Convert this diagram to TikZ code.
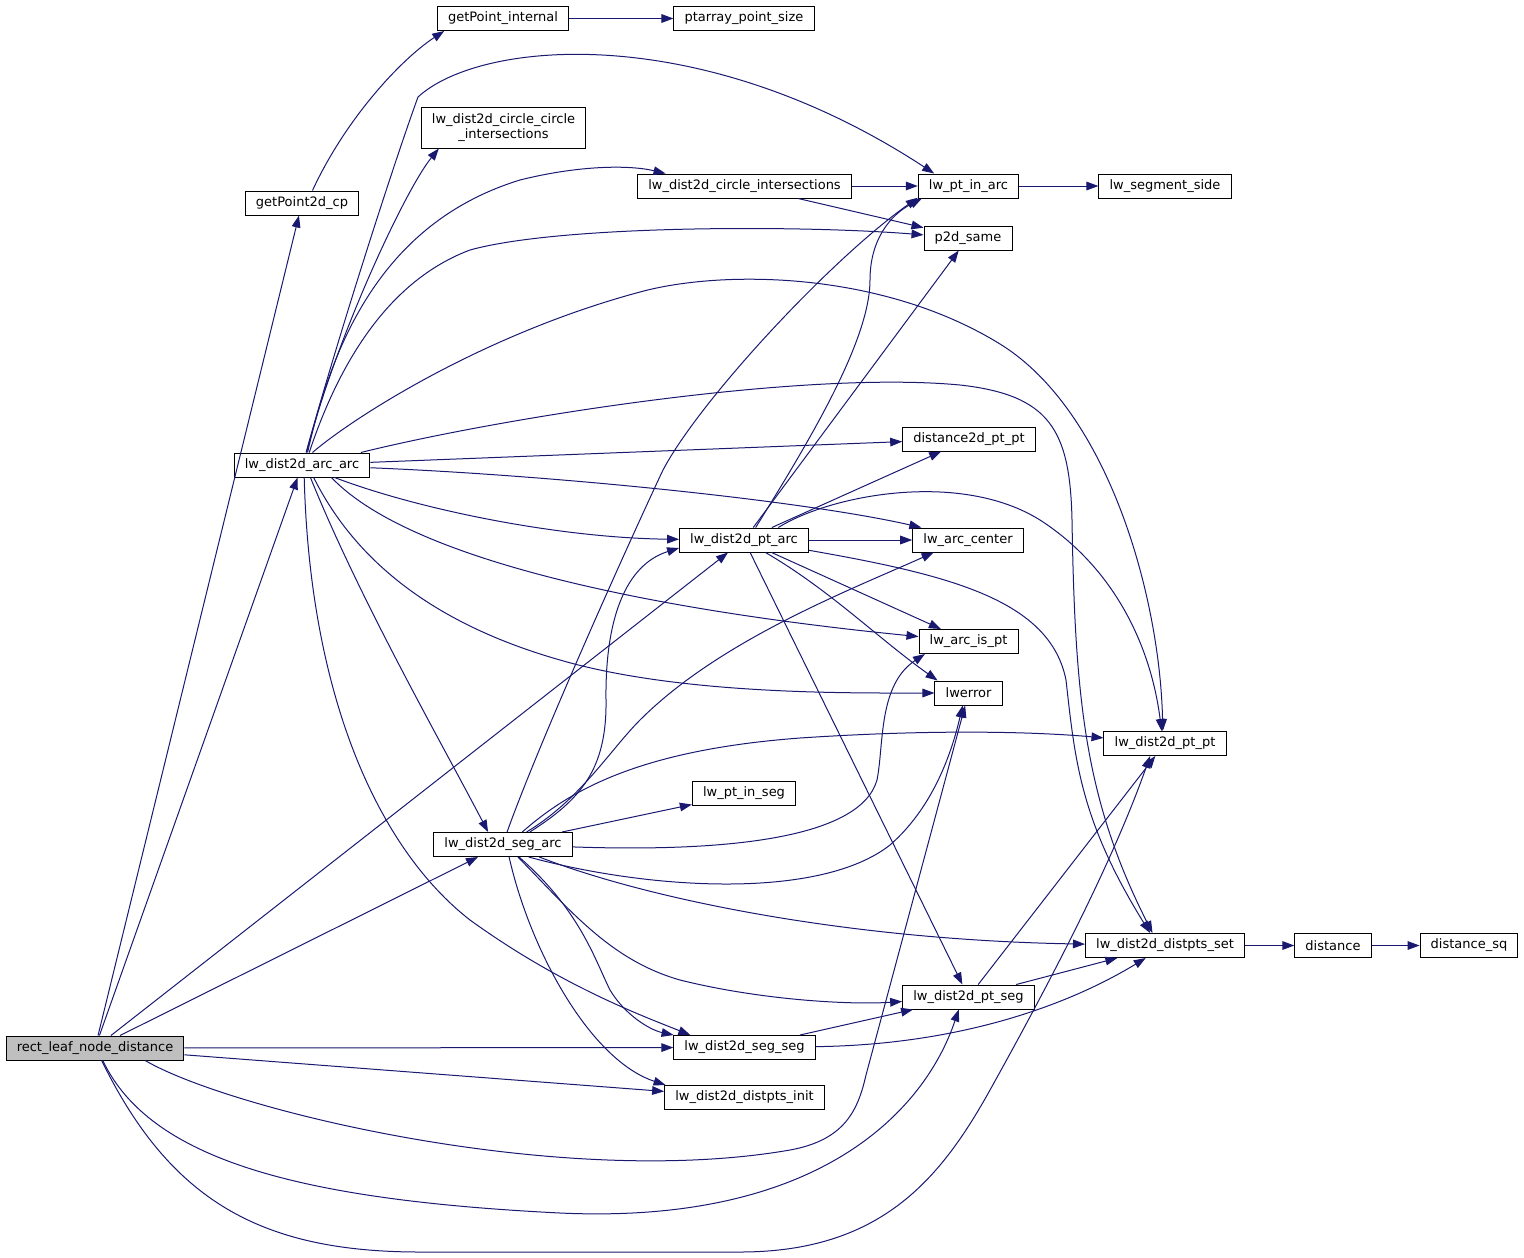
\documentclass[tikz,border=0pt]{standalone}
\usepackage{fontspec}
\setmainfont{DejaVu Sans}
\usetikzlibrary{arrows.meta}
\definecolor{callblue}{HTML}{191970}
\definecolor{rootgray}{HTML}{BFBFBF}

\begin{document}
\begin{tikzpicture}[x=0.75pt,y=-0.75pt]
\tikzstyle{func} = [rectangle, draw=black, fill=white, line width=0.75pt, inner xsep=8pt, inner ysep=0pt, minimum height=18pt, font=\fontsize{9.75}{11.25}\selectfont]
\tikzstyle{call} = [draw=callblue, line width=0.75pt, -{Triangle[length=9pt,width=6.5pt]}]

\useasboundingbox (0,0) rectangle (1524,1257);

\node[func, fill=rootgray] (leaf) at (95,1048) {rect\_leaf\_node\_distance};
\node[func] (ptint) at (503,18.5) {getPoint\_internal};
\node[func] (ptsize) at (744,18.5) {ptarray\_point\_size};
\node[func] (pt2dcp) at (302,203) {getPoint2d\_cp};
\node[func, align=center, minimum height=30.75pt] (ccinter) at (503.5,127.5) {lw\_dist2d\_circle\_circle\\\_intersections};
\node[func] (cinter) at (744.5,186) {lw\_dist2d\_circle\_intersections};
\node[func] (ptinarc) at (968.5,186) {lw\_pt\_in\_arc};
\node[func] (segside) at (1165,186) {lw\_segment\_side};
\node[func] (p2dsame) at (968,238) {p2d\_same};
\node[func] (arcarc) at (302,465) {lw\_dist2d\_arc\_arc};
\node[func] (d2ptpt) at (969,439) {distance2d\_pt\_pt};
\node[func] (ptarc) at (744,540) {lw\_dist2d\_pt\_arc};
\node[func] (arccenter) at (968,540) {lw\_arc\_center};
\node[func] (arcispt) at (968.5,641.5) {lw\_arc\_is\_pt};
\node[func] (lwerr) at (968.5,693) {lwerror};
\node[func] (distptpt) at (1165,743.5) {lw\_dist2d\_pt\_pt};
\node[func] (ptinseg) at (744,793.5) {lw\_pt\_in\_seg};
\node[func] (segarc) at (503,844.5) {lw\_dist2d\_seg\_arc};
\node[func] (distset) at (1165,945.5) {lw\_dist2d\_distpts\_set};
\node[func] (dist) at (1333,945.5) {distance};
\node[func] (distsq) at (1469,945.5) {distance\_sq};
\node[func] (ptseg) at (968.5,997) {lw\_dist2d\_pt\_seg};
\node[func] (segseg) at (744.5,1047.5) {lw\_dist2d\_seg\_seg};
\node[func] (distinit) at (744.5,1097.5) {lw\_dist2d\_distpts\_init};

\draw[call] (pt2dcp.50) .. controls (345,120) and (400,60) .. (ptint.-168);
\draw[call] (ptint) -- (ptsize);
\draw[call] (cinter) -- (ptinarc);
\draw[call] (cinter) -- (p2dsame);
\draw[call] (ptinarc) -- (segside);
\draw[call] (distset) -- (dist);
\draw[call] (dist) -- (distsq);

\draw[call] (leaf) -- (pt2dcp);
\draw[call] (leaf) -- (arcarc);
\draw[call] (leaf) -- (ptarc);
\draw[call] (leaf) -- (segarc);
\draw[call] (leaf) -- (segseg);
\draw[call] (leaf) -- (distinit);
\draw[call] (leaf.-14) .. controls (230,1110) and (560,1190) .. (790,1150) .. controls (845,1140) and (858,1110) .. (866,1075) -- (lwerr.-105);
\draw[call] (leaf.-58) .. controls (150,1160) and (300,1200) .. (560,1213) .. controls (820,1225) and (925,1110) .. (ptseg.-128);
\draw[call] (leaf.-62) .. controls (170,1200) and (260,1252) .. (420,1252) -- (740,1252) .. controls (880,1252) and (940,1180) .. (990,1090) .. controls (1040,1000) and (1110,870) .. (distptpt.-140);

\draw[call] (arcarc.72) .. controls (340,330) and (395,160) .. (418,97) .. controls (480,40) and (700,20) .. (ptinarc.160);
\draw[call] (arcarc.70) .. controls (335,340) and (405,190) .. (ccinter.-162);
\draw[call] (arcarc.66) .. controls (335,330) and (390,220) .. (520,180) .. controls (580,165) and (630,165) .. (cinter.171);
\draw[call] (arcarc.60) .. controls (340,360) and (390,280) .. (470,250) .. controls (560,225) and (800,225) .. (p2dsame.176);
\draw[call] (arcarc.50) .. controls (350,420) and (480,335) .. (640,292) .. controls (720,270) and (880,270) .. (1000,344) .. controls (1110,412) and (1160,600) .. (distptpt.100);
\draw[call] (arcarc.12) .. controls (500,418) and (800,370) .. (960,385) .. controls (1050,395) and (1070,430) .. (1072,520) .. controls (1075,700) and (1085,800) .. (distset.135);
\draw[call] (arcarc) -- (d2ptpt);
\draw[call] (arcarc) .. controls (550,475) and (800,500) .. (arccenter.165);
\draw[call] (arcarc.-21) .. controls (420,510) and (560,538) .. (ptarc);
\draw[call] (arcarc.-23) .. controls (410,560) and (650,610) .. (arcispt);
\draw[call] (arcarc.-47) .. controls (350,550) and (420,620) .. (560,660) .. controls (680,695) and (850,693) .. (lwerr);
\draw[call] (arcarc.-56) .. controls (360,600) and (440,740) .. (segarc.140);
\draw[call] (arcarc.-80) .. controls (310,700) and (380,850) .. (470,920) .. controls (560,985) and (640,1015) .. (segseg.167);

\draw[call] (ptarc.47) .. controls (810,440) and (870,340) .. (870,280) .. controls (870,240) and (890,215) .. (ptinarc.-165);
\draw[call] (ptarc) -- (p2dsame);
\draw[call] (ptarc) -- (d2ptpt);
\draw[call] (ptarc.20) .. controls (830,495) and (960,470) .. (1040,520) .. controls (1110,565) and (1150,640) .. (distptpt.105);
\draw[call] (ptarc) -- (arccenter);
\draw[call] (ptarc) -- (arcispt);
\draw[call] (ptarc) .. controls (830,590) and (880,640) .. (lwerr.158);
\draw[call] (ptarc.-9) .. controls (950,575) and (1050,600) .. (1066,680) .. controls (1075,760) and (1080,820) .. (distset.140);
\draw[call] (ptarc) -- (ptseg);

\draw[call] (segarc.72) .. controls (540,740) and (630,540) .. (663,470) .. controls (700,400) and (830,260) .. (ptinarc.-167);
\draw[call] (segarc.25) .. controls (580,800) and (607,770) .. (606,700) .. controls (605,620) and (625,565) .. (ptarc.-173);
\draw[call] (segarc.28) .. controls (580,800) and (610,750) .. (640,720) .. controls (720,640) and (850,590) .. (arccenter.-160);
\draw[call] (segarc.33) .. controls (570,790) and (640,750) .. (800,738) .. controls (950,728) and (1050,733) .. (distptpt);
\draw[call] (segarc) -- (ptinseg);
\draw[call] (segarc) .. controls (720,852) and (860,840) .. (877,780) .. controls (884,745) and (878,685) .. (arcispt.-164);
\draw[call] (segarc.-26) .. controls (650,890) and (820,900) .. (890,845) .. controls (930,810) and (950,760) .. (lwerr.-115);
\draw[call] (segarc.-19) .. controls (650,900) and (850,940) .. (distset);
\draw[call] (segarc.-40) .. controls (570,910) and (610,960) .. (680,980) .. controls (760,1000) and (850,1005) .. (ptseg);
\draw[call] (segarc.-38) .. controls (580,910) and (595,960) .. (610,990) .. controls (625,1015) and (650,1030) .. (segseg.170);
\draw[call] (segarc.-64) .. controls (530,950) and (590,1060) .. (distinit.171);

\draw[call] (segseg) -- (ptseg);
\draw[call] (segseg) .. controls (950,1045) and (1060,1010) .. (distset.-147);
\draw[call] (ptseg) -- (distptpt);
\draw[call] (ptseg) -- (distset);
\end{tikzpicture}
\end{document}
